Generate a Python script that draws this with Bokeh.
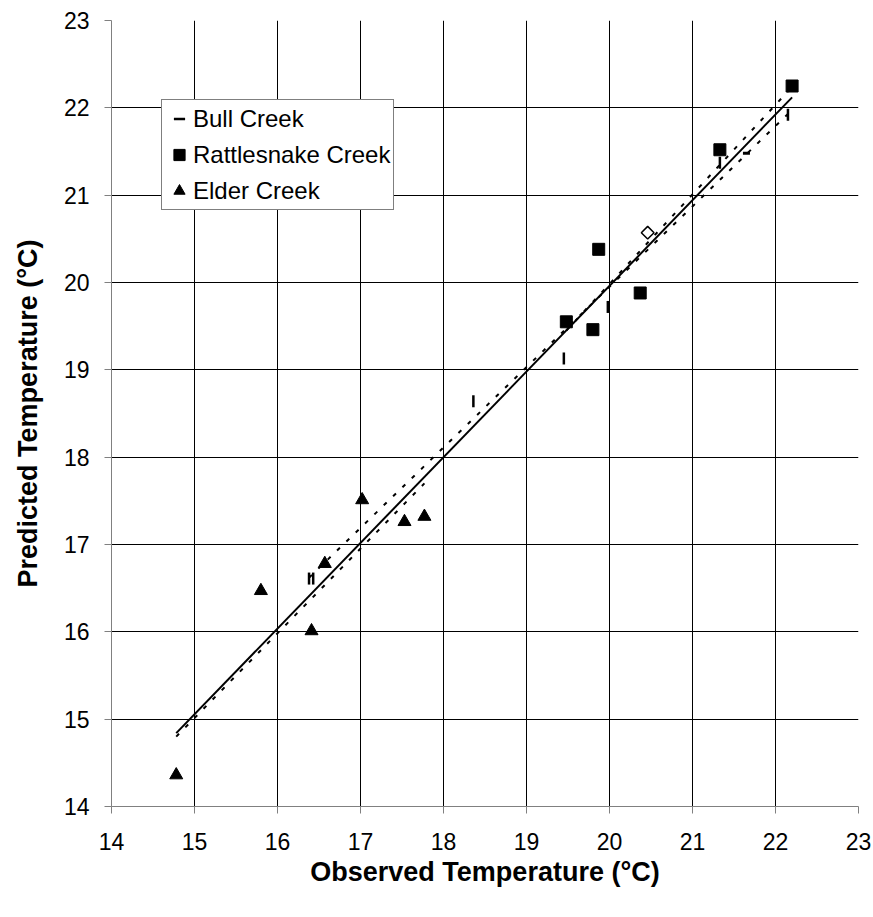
from math import pi

from bokeh.embed import file_html
from bokeh.models import FixedTicker, Legend, LegendItem, Range1d
from bokeh.plotting import figure
from bokeh.resources import INLINE

# observed vs predicted stream temperature (deg C)
bull_obs = [16.38, 16.43, 18.36, 19.45, 19.98, 21.33, 22.15]
bull_pred = [16.61, 16.61, 18.64, 19.13, 19.72, 21.37, 21.92]

rattle_obs = [19.48, 19.80, 19.87, 20.37, 21.33, 22.20]
rattle_pred = [19.55, 19.46, 20.38, 19.88, 21.52, 22.25]

elder_obs = [14.78, 15.80, 16.41, 16.57, 17.02, 17.53, 17.77]
elder_pred = [14.36, 16.47, 16.01, 16.78, 17.51, 17.26, 17.32]

# unlabelled marks
dash_obs = [21.65]
dash_pred = [21.48]
open_obs = [20.46]
open_pred = [20.57]

# fitted lines, end points
fit_all_obs = [14.78, 22.20]
fit_all_pred = [14.84, 22.12]
fit_bull_obs = [16.38, 22.15]
fit_bull_pred = [16.62, 21.93]
fit_rattle_obs = [19.48, 22.20]
fit_rattle_pred = [19.45, 22.24]
fit_elder_obs = [14.78, 17.77]
fit_elder_pred = [14.80, 17.70]

ticks = list(range(14, 24))

FONT = "Liberation Sans"

p = figure(width=873, height=917,
           x_range=Range1d(14, 23), y_range=Range1d(14, 23),
           output_backend="svg", toolbar_location=None,
           min_border_left=111, min_border_right=15,
           min_border_top=20, min_border_bottom=111)
p.outline_line_color = None
p.background_fill_color = "white"

for ax in (p.xaxis, p.yaxis):
    ax.ticker = FixedTicker(ticks=ticks)
    ax.axis_line_color = "#808080"
    ax.major_tick_line_color = "#808080"
    ax.major_tick_in = 0
    ax.major_tick_out = 7
    ax.minor_tick_line_color = None
    ax.major_label_text_font = FONT
    ax.major_label_text_font_size = "23px"
    ax.major_label_text_color = "black"
    ax.axis_label_text_font = FONT
    ax.axis_label_text_font_size = "27px"
    ax.axis_label_text_font_style = "bold"
    ax.axis_label_text_color = "black"

p.xaxis.axis_label = "Observed Temperature (°C)"
p.yaxis.axis_label = "Predicted Temperature (°C)"
p.xaxis.major_label_standoff = 19
p.xaxis.axis_label_standoff = 4
p.yaxis.major_label_standoff = 15
p.yaxis.axis_label_standoff = 18

p.grid.grid_line_color = "black"
p.grid.grid_line_alpha = 1
p.grid.grid_line_width = 1

# lines
p.line(fit_all_obs, fit_all_pred, line_color="black", line_width=2)
for xs, ys in ((fit_bull_obs, fit_bull_pred),
               (fit_rattle_obs, fit_rattle_pred),
               (fit_elder_obs, fit_elder_pred)):
    p.line(xs, ys, line_color="black", line_width=2, line_dash="4 9")

# points
bull = p.scatter(bull_obs, bull_pred, marker="dash", angle=pi / 2, size=12,
                 line_color="black", line_width=2.5)
rattle = p.scatter(rattle_obs, rattle_pred, marker="square", size=12,
                   fill_color="black", line_color="black")
elder = p.scatter(elder_obs, elder_pred, marker="triangle", size=13,
                  fill_color="black", line_color="black")
p.scatter(dash_obs, dash_pred, marker="dash", size=7,
          line_color="black", line_width=3)
p.scatter(open_obs, open_pred, marker="square", angle=pi / 4, size=9,
          fill_color="white", line_color="black", line_width=1.5)

legend = Legend(items=[LegendItem(label="Bull Creek", renderers=[bull]),
                       LegendItem(label="Rattlesnake Creek", renderers=[rattle]),
                       LegendItem(label="Elder Creek", renderers=[elder])],
                location=(50, 596), margin=0, padding=3, spacing=5,
                glyph_width=28, glyph_height=31, label_height=31,
                label_standoff=0,
                label_text_font=FONT, label_text_font_size="24px",
                label_text_color="black",
                border_line_color="black", border_line_width=1,
                background_fill_color="white", background_fill_alpha=1)
p.add_layout(legend)

open("out.html", "w").write(file_html(p, INLINE))
